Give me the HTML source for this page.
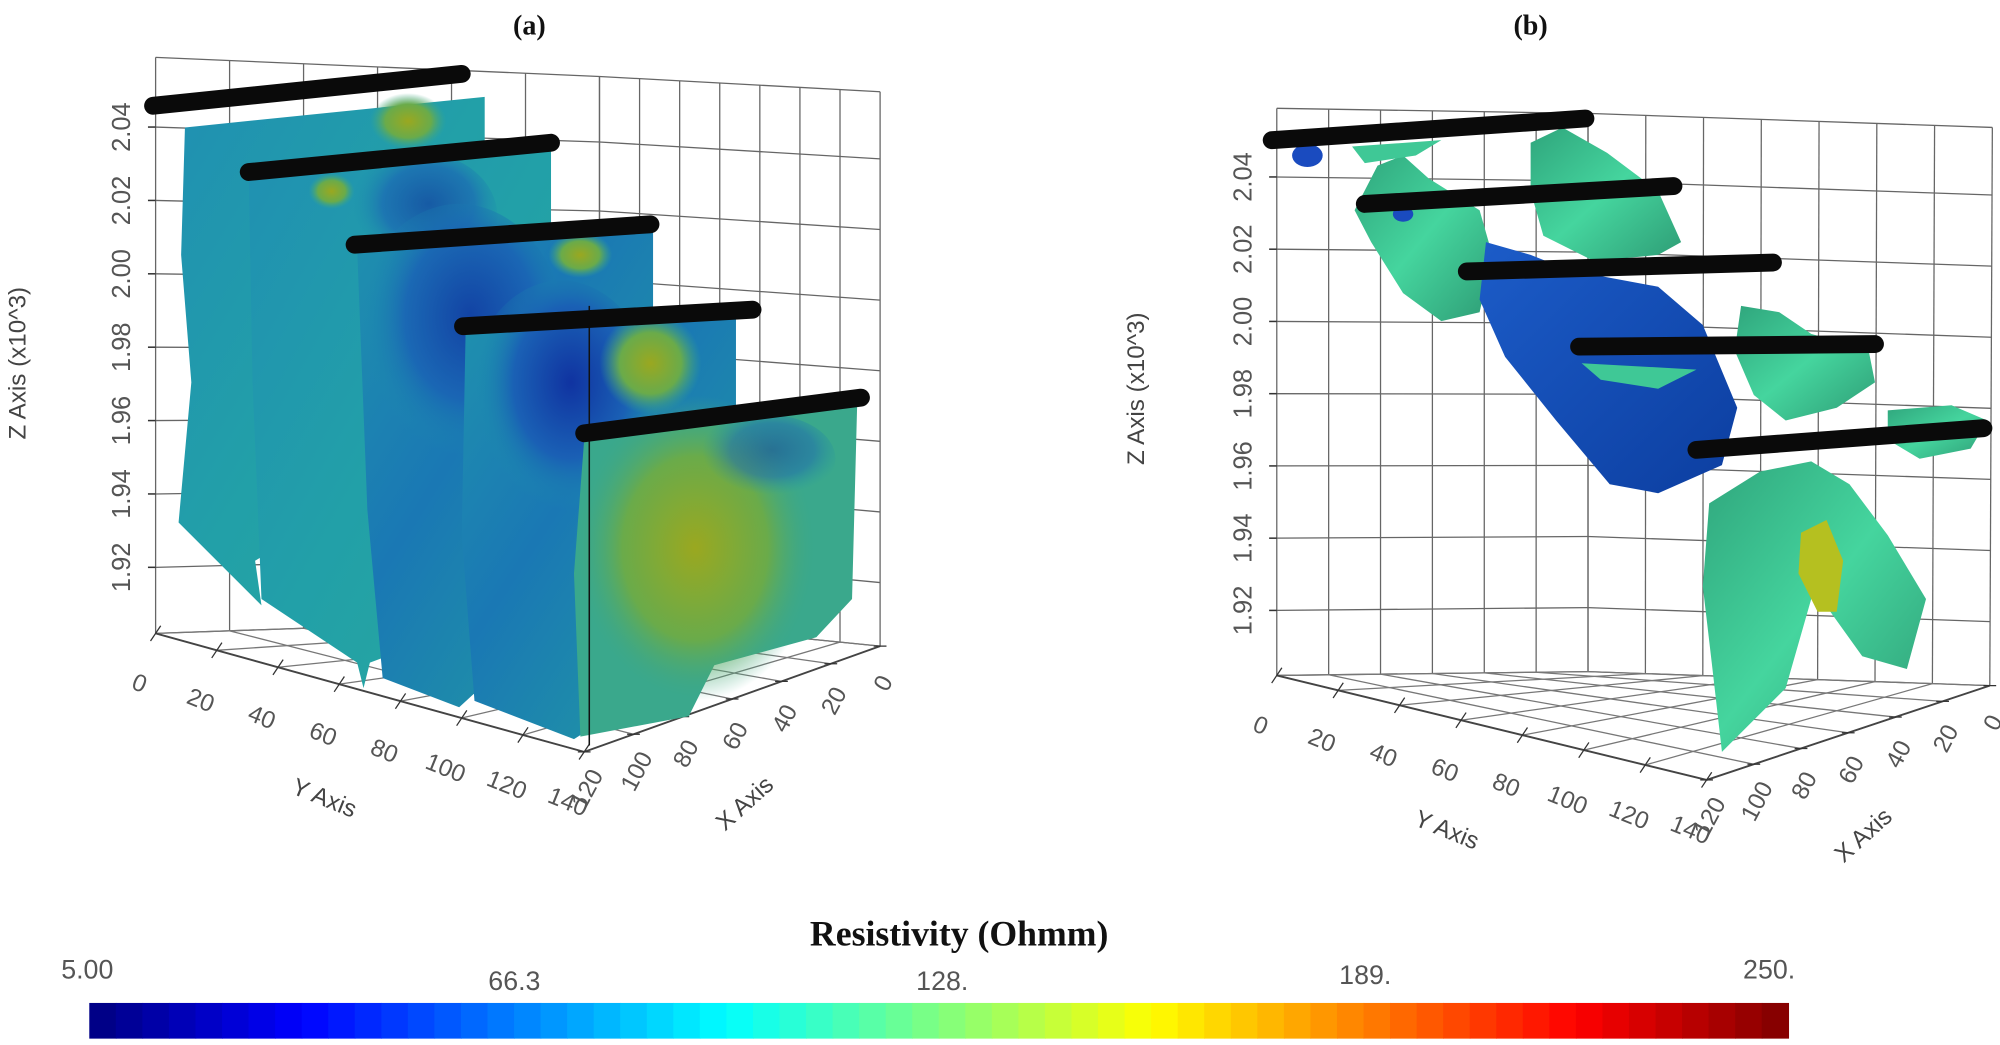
<!DOCTYPE html>
<html><head><meta charset="utf-8"><style>
html,body{margin:0;padding:0;background:#fff;}
svg{display:block;}
.tk{font-family:"Liberation Sans",sans-serif;font-size:19px;fill:#555;}
.ztk{font-family:"Liberation Sans",sans-serif;font-size:20px;fill:#555;}
.ttl{font-family:"Liberation Sans",sans-serif;font-size:19px;fill:#444;}
.cbl{font-family:"Liberation Sans",sans-serif;font-size:21px;fill:#555;}
</style></head><body>
<svg id="fig" width="2000" height="1045" viewBox="0 0 1568 820" preserveAspectRatio="none" xmlns="http://www.w3.org/2000/svg">
<defs>
<linearGradient id="gA1" x1="0" y1="0" x2="1" y2="1"><stop offset="0" stop-color="#2090b2"/><stop offset="0.5" stop-color="#22a0a8"/><stop offset="1" stop-color="#28a89c"/></linearGradient>
<linearGradient id="gA2" x1="0" y1="0" x2="1" y2="1"><stop offset="0" stop-color="#1f90ae"/><stop offset="0.4" stop-color="#1a78b4"/><stop offset="1" stop-color="#22a0a0"/></linearGradient>
<radialGradient id="gBlue" cx="0.55" cy="0.4" r="0.5"><stop offset="0" stop-color="#0f2fa0"/><stop offset="0.6" stop-color="#1a5fb5"/><stop offset="1" stop-color="#1a8eac" stop-opacity="0"/></radialGradient>
<radialGradient id="gYel" cx="0.5" cy="0.5" r="0.5"><stop offset="0" stop-color="#9aa820"/><stop offset="0.6" stop-color="#6aab4a"/><stop offset="1" stop-color="#3aa88a" stop-opacity="0"/></radialGradient>
<linearGradient id="gBlob" x1="0" y1="0" x2="1" y2="1"><stop offset="0" stop-color="#1c5cc8"/><stop offset="1" stop-color="#0c3ea0"/></linearGradient>
<linearGradient id="gGreen" x1="0" y1="0" x2="1" y2="1"><stop offset="0" stop-color="#2fa57c"/><stop offset="0.5" stop-color="#45d59e"/><stop offset="1" stop-color="#2e9c75"/></linearGradient>
</defs>
<g id="gridLayer"></g>

<!-- Panel A slices -->
<g>
<polygon points="145,100 380,76 380,300 300,380 200,440 205,475 140,410 150,300 142,200" fill="url(#gA1)"/>
<ellipse cx="320" cy="95" rx="30" ry="22" fill="url(#gYel)"/>
<polygon points="195,138 432,113 432,400 330,505 290,520 285,540 280,520 205,470 198,300" fill="url(#gA1)"/>
<ellipse cx="260" cy="150" rx="18" ry="14" fill="url(#gYel)"/>
<ellipse cx="330" cy="170" rx="60" ry="50" fill="url(#gBlue)" opacity="0.6"/>
<polygon points="280,195 512,178 512,450 420,500 360,555 300,532 288,400" fill="url(#gA2)"/>
<ellipse cx="360" cy="270" rx="85" ry="110" fill="url(#gBlue)" opacity="0.75"/>
<ellipse cx="455" cy="200" rx="25" ry="18" fill="url(#gYel)"/>
<polygon points="365,262 577,250 577,500 450,580 372,550 362,420" fill="url(#gA2)"/>
<ellipse cx="440" cy="320" rx="75" ry="100" fill="url(#gBlue)" opacity="0.95"/>
<ellipse cx="510" cy="285" rx="40" ry="40" fill="url(#gYel)"/>
<polygon points="458,345 672,318 668,470 640,500 560,522 540,562 455,578 450,450" fill="#3aa88c"/>
<ellipse cx="545" cy="430" rx="95" ry="120" fill="url(#gYel)"/>
<ellipse cx="600" cy="360" rx="55" ry="35" fill="url(#gBlue)" opacity="0.45"/>
<line x1="462" y1="240" x2="462" y2="585" stroke="#111" stroke-width="1.2"/>
</g>

<!-- Panel B blobs -->
<g>
<polygon points="1200,112 1225,100 1260,120 1300,150 1318,190 1300,200 1250,205 1210,185 1200,150" fill="url(#gGreen)"/>
<polygon points="1080,130 1100,122 1120,140 1160,165 1170,200 1160,245 1130,252 1100,230 1075,190 1062,165" fill="url(#gGreen)"/>
<polygon points="1165,190 1200,200 1230,212 1300,225 1335,255 1362,320 1350,365 1300,387 1262,380 1220,330 1180,280 1160,235" fill="url(#gBlob)"/>
<polygon points="1365,240 1395,245 1420,262 1465,275 1470,300 1440,320 1400,330 1375,310 1360,275" fill="url(#gGreen)"/>
<polygon points="1340,395 1380,370 1420,362 1450,380 1480,420 1510,470 1495,525 1460,515 1435,480 1420,470 1400,540 1380,560 1350,590 1342,520 1335,460" fill="url(#gGreen)"/>
<polygon points="1412,418 1432,408 1445,440 1440,480 1425,480 1410,450" fill="#b5c020"/>
<polygon points="1480,322 1530,318 1558,330 1545,352 1505,360 1480,345" fill="url(#gGreen)"/>
<polygon points="1060,115 1130,110 1110,122 1070,128" fill="#3fc896"/>
<ellipse cx="1025" cy="122" rx="12" ry="9" fill="#1a4bbf"/>
<ellipse cx="1100" cy="168" rx="8" ry="6" fill="#1a4bbf"/>
<polygon points="1240,285 1330,290 1300,305 1255,298" fill="#3fc896"/>
</g>

<g id="electrodeLayer"></g>
<g id="labelLayer"></g>

<text x="415" y="27" text-anchor="middle" font-family="Liberation Serif,serif" font-weight="bold" font-size="22" fill="#111">(a)</text>
<text x="1200" y="27" text-anchor="middle" font-family="Liberation Serif,serif" font-weight="bold" font-size="22" fill="#111">(b)</text>

<text x="752" y="742" text-anchor="middle" font-family="Liberation Serif,serif" font-weight="bold" font-size="28" fill="#111">Resistivity (Ohmm)</text>
<g id="cbLayer"></g>
</svg>
<script>
// ---- data ----
const zTicks = [1.92, 1.94, 1.96, 1.98, 2.00, 2.02, 2.04];
const yTicks = [0, 20, 40, 60, 80, 100, 120, 140];
const xTicks = [120, 100, 80, 60, 40, 20, 0];
const cbTicks = [5, 66.3, 128, 189, 250];
const cbTickLabels = ["5.00", "66.3", "128.", "189.", "250."];
const cbSteps = 64;
const zMin = 1.902, zMax = 2.059;
const cbMin = 5, cbMax = 250;

const NS = "http://www.w3.org/2000/svg";
function mk(tag, attrs, parent){ const e=document.createElementNS(NS,tag); for(const k in attrs) e.setAttribute(k,attrs[k]); parent.appendChild(e); return e; }
function lerp(p,q,t){ return [p[0]+(q[0]-p[0])*t, p[1]+(q[1]-p[1])*t]; }

const panels = [
 {id:'a', BL:[122,497], K:[470,485], R:[690,507], Fr:[458,590], TL:[122,45], TK:[470,60], TR:[690,72],
  ztitle:[20,285], ytitle:[252,632], xtitle:[588,635],
  lines:[[[120,83],[362,58]],[[195,135],[432,112]],[[278,192],[510,176]],[[363,256],[590,243]],[[458,340],[675,312]]]},
 {id:'b', BL:[1001,530], K:[1245,527], R:[1560,538], Fr:[1338,612], TL:[1001,85], TK:[1245,89], TR:[1562,100],
  ztitle:[897,305], ytitle:[1132,657], xtitle:[1465,660],
  lines:[[[997,110],[1243,93]],[[1070,160],[1312,146]],[[1150,213],[1390,206]],[[1238,272],[1470,270]],[[1330,353],[1555,336]]]}
];
const grid = document.getElementById('gridLayer');
const lab = document.getElementById('labelLayer');
const el = document.getElementById('electrodeLayer');
function zT(v){ return (v-zMin)/(zMax-zMin); }
function line(p,q,parent,w,c){ return mk('line',{x1:p[0],y1:p[1],x2:q[0],y2:q[1],stroke:c||'#555','stroke-width':w||1},parent); }

panels.forEach(P=>{
  const g = mk('g',{},grid);
  
  
  for(let i=0;i<=6;i++){ const t=i/6; line(lerp(P.BL,P.K,t), lerp(P.TL,P.TK,t), g, 1, '#666'); }
  for(let i=0;i<=7;i++){ const t=i/7; line(lerp(P.K,P.R,t), lerp(P.TK,P.TR,t), g, 1, '#666'); }
  const zs=[zMin].concat(zTicks).concat([zMax]);
  zs.forEach(v=>{ const t=zT(v);
    const a=lerp(P.BL,P.TL,t), b=lerp(P.K,P.TK,t), c=lerp(P.R,P.TR,t);
    line(a,b,g,1,'#666'); line(b,c,g,1,'#666'); });
  for(let i=0;i<=7;i++){ const t=i/7; line(lerp(P.BL,P.Fr,t), lerp(P.K,P.R,t), g, 1, '#777'); }
  for(let i=0;i<=6;i++){ const t=i/6; line(lerp(P.BL,P.K,t), lerp(P.Fr,P.R,t), g, 1, '#777'); }
  line(P.BL,P.Fr,g,1.5,'#444'); line(P.Fr,P.R,g,1.5,'#444');
  zTicks.forEach(v=>{ const p=lerp(P.BL,P.TL,zT(v));
    line([p[0]-6,p[1]],[p[0],p[1]],g,1.2,'#333');
    const x=p[0]-20;
    const t=mk('text',{x:x,y:p[1],'text-anchor':'middle',transform:`rotate(-90 ${x} ${p[1]})`,class:'ztk'},lab);
    
    
    t.textContent=v.toFixed(2); });
  yTicks.forEach((v,i)=>{ const p=lerp(P.BL,P.Fr,v/140);
    line([p[0]-4,p[1]+6],[p[0]+4,p[1]-6],g,1,'#333');
    const x=p[0]-15,y=p[1]+45;
    const t=mk('text',{x:x,y:y,'text-anchor':'middle',transform:`rotate(22 ${x} ${y})`,class:'tk'},lab);
    
    
    t.textContent=v; });
  xTicks.forEach(v=>{ const p=lerp(P.Fr,P.R,(120-v)/120);
    line([p[0]-5,p[1]],[p[0]+5,p[1]],g,1,'#333');
    const x=p[0]+8,y=p[1]+32;
    const t=mk('text',{x:x,y:y,'text-anchor':'middle',transform:`rotate(-62 ${x} ${y})`,class:'tk'},lab);
    
    
    t.textContent=v; });
  let t=mk('text',{x:P.ztitle[0],y:P.ztitle[1],'text-anchor':'middle',transform:`rotate(-90 ${P.ztitle[0]} ${P.ztitle[1]})`,class:'ttl'},lab);
  
  
  t.textContent='Z Axis (x10^3)';
  t=mk('text',{x:P.ytitle[0],y:P.ytitle[1],'text-anchor':'middle',transform:`rotate(22 ${P.ytitle[0]} ${P.ytitle[1]})`,class:'ttl'},lab);
  
  
  t.textContent='Y Axis';
  t=mk('text',{x:P.xtitle[0],y:P.xtitle[1],'text-anchor':'middle',transform:`rotate(-42 ${P.xtitle[0]} ${P.xtitle[1]})`,class:'ttl'},lab);
  
  
  t.textContent='X Axis';
  P.lines.forEach(L=>{
    const l=mk('line',{x1:L[0][0],y1:L[0][1],x2:L[1][0],y2:L[1][1],stroke:'#0a0a0a','stroke-width':14,'stroke-linecap':'round'},el);
    
    
  });
});

function jet(t){ const r=Math.min(Math.max(1.5-Math.abs(4*t-3),0),1), g=Math.min(Math.max(1.5-Math.abs(4*t-2),0),1), b=Math.min(Math.max(1.5-Math.abs(4*t-1),0),1);
  return `rgb(${Math.round(r*255)},${Math.round(g*255)},${Math.round(b*255)})`; }
const cb=document.getElementById('cbLayer');
const cbX0=70, cbX1=1402, cbY=787, cbH=28;
function cbx(v){ return cbX0+(v-cbMin)/(cbMax-cbMin)*(cbX1-cbX0); }
for(let i=0;i<cbSteps;i++){
  const v0=cbMin+(cbMax-cbMin)*i/cbSteps, v1=cbMin+(cbMax-cbMin)*(i+1)/cbSteps;
  const r=mk('rect',{x:cbx(v0),y:cbY,width:cbx(v1)-cbx(v0)+0.6,height:cbH,fill:jet((i+0.5)/cbSteps)},cb);
  
  
}
const cbLabY=[768,777,777,772,768];
cbTicks.forEach((v,i)=>{
  let x=cbx(v), anchor='middle';
  if(i===0){anchor='start'; x=cbX0-22;}
  if(i===cbTicks.length-1){anchor='middle'; x=cbX1-15;}
  const t=mk('text',{x:x,y:cbLabY[i],'text-anchor':anchor,class:'cbl'},cb);
  
  
  t.textContent=cbTickLabels[i];
});
</script>
</body></html>
